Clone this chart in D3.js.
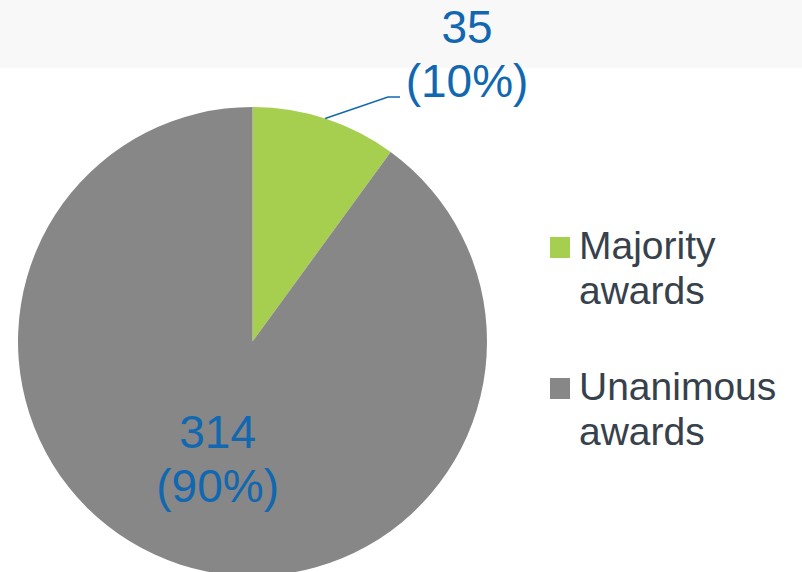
<!DOCTYPE html>
<html>
<head>
<meta charset="utf-8">
<script src="https://cdn.jsdelivr.net/npm/d3@7"></script>
<style>
  body { margin: 0; background: #fff; }
  svg { display: block; font-family: "Liberation Sans", Arial, sans-serif; }
</style>
</head>
<body>
<div id="chart"></div>
<script>
// data
var categories = ["Majority awards", "Unanimous awards"];
var legendLines = [["Majority", "awards"], ["Unanimous", "awards"]];
var values = [35, 314];
var percents = ["10%", "90%"];
var colors = ["#a6cf50", "#878787"];

var width = 802,
  height = 572;
var cx = 252.5,
  cy = 341.5,
  radius = 234.5;

var svg = d3
  .select("#chart")
  .append("svg")
  .attr("width", width)
  .attr("height", height);

// grey band at top
svg
  .append("rect")
  .attr("x", 0)
  .attr("y", 0)
  .attr("width", width)
  .attr("height", 68)
  .attr("fill", "#f8f8f8");

var pie = d3.pie().sort(null).value(function (d) { return d; });
var arcs = pie(values);

var arc = d3.arc().innerRadius(0).outerRadius(radius);

var g = svg.append("g").attr("transform", "translate(" + cx + "," + cy + ")");

g.selectAll("path")
  .data(arcs)
  .enter()
  .append("path")
  .attr("d", arc)
  .attr("fill", function (d, i) { return colors[i]; });

var blue = "#1168b0";

// leader line for the small slice
var a0 = (arcs[0].startAngle + arcs[0].endAngle) / 2;
var p0 = [radius * Math.sin(a0), -radius * Math.cos(a0)];
var elbow = [388 - cx, 97 - cy];
var end = [400 - cx, 97 - cy];
g.append("polyline")
  .attr("points", [p0, elbow, end].map(function (p) { return p.join(","); }).join(" "))
  .attr("fill", "none")
  .attr("stroke", blue)
  .attr("stroke-width", 1.5);

// outside label for majority
var outLabel = svg
  .append("text")
  .attr("fill", blue)
  .attr("font-size", 46)
  .attr("text-anchor", "middle");
outLabel.append("tspan").attr("x", 467).attr("y", 43).text(values[0]);
outLabel.append("tspan").attr("x", 467).attr("y", 97).text("(" + percents[0] + ")");

// inside label for unanimous
var labelArc = d3.arc().innerRadius(radius * 0.59).outerRadius(radius * 0.59);
var c = labelArc.centroid(arcs[1]);
var lx = cx + c[0] + 8,
  ly = cy + c[1];
var inLabel = svg
  .append("text")
  .attr("fill", blue)
  .attr("font-size", 46)
  .attr("text-anchor", "middle");
inLabel.append("tspan").attr("x", lx).attr("y", ly - 25).text(values[1]);
inLabel.append("tspan").attr("x", lx).attr("y", ly + 29).text("(" + percents[1] + ")");

// legend
var legendY = [237, 378];
var legend = svg
  .selectAll("g.legend")
  .data(categories)
  .enter()
  .append("g")
  .attr("class", "legend");

legend
  .append("rect")
  .attr("x", 550)
  .attr("y", function (d, i) { return legendY[i]; })
  .attr("width", 20)
  .attr("height", 21)
  .attr("fill", function (d, i) { return colors[i]; });

legend
  .append("text")
  .attr("fill", "#36414c")
  .attr("font-size", 39)
  .each(function (d, i) {
    var t = d3.select(this);
    legendLines[i].forEach(function (line, j) {
      t.append("tspan")
        .attr("x", 579)
        .attr("y", legendY[i] + 22 + j * 45)
        .text(line);
    });
  });
</script>
</body>
</html>
